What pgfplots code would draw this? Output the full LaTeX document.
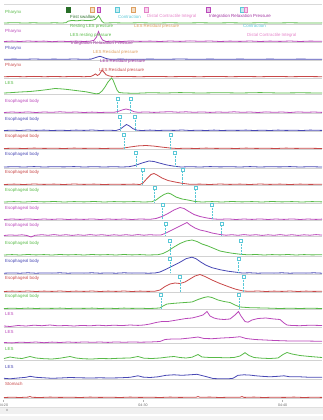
\documentclass[border=0pt]{standalone}
\usepackage{pgfplots}
\pgfplotsset{compat=1.18}
\usepackage{fontspec}
\setmainfont{Liberation Sans}
\definecolor{tgreen}{RGB}{88,186,72}
\definecolor{tmag}{RGB}{186,72,186}
\definecolor{tblue}{RGB}{72,72,180}
\definecolor{tred}{RGB}{200,72,72}
\definecolor{cyanm}{RGB}{90,200,215}
\definecolor{orangem}{RGB}{222,160,96}
\definecolor{pinkm}{RGB}{228,130,200}
\definecolor{purplem}{RGB}{160,50,160}
\definecolor{dkgreen}{RGB}{40,110,40}
\newcommand{\lf}{\fontsize{4.4}{5}\selectfont}
\newcommand{\cm}[3]{\draw[cyanm, densely dotted, line width=0.45pt] (axis cs:#1,#2) -- (axis cs:#1,#3);
\node[draw=cyanm, fill=white, line width=0.45pt, minimum size=3pt, inner sep=0pt] at (axis cs:#1,#2) {};}
\newcommand{\tm}[2]{\node[draw=#2, fill=#2!35, line width=0.45pt, minimum width=3.5pt, minimum height=5pt, inner sep=0pt] at (axis cs:#1,10) {};}
\newcommand{\lab}[3]{\node[anchor=west, inner sep=0pt, text=#2, font=\lf] at (axis cs:5,#1) {#3};}
\newcommand{\ann}[4]{\node[anchor=west, inner sep=0pt, text=#3, font=\lf] at (axis cs:#1,#2) {#4};}
\begin{document}
\begin{tikzpicture}
\begin{axis}[width=323pt, height=420pt, scale only axis, xmin=0, xmax=323, ymin=0, ymax=420, y dir=reverse, hide axis, clip=false,
  tr/.style={line width=0.8pt, no marks}]
\coordinate (ll) at (axis cs:0,420);
\coordinate (ur) at (axis cs:323,0);
% separators
\draw[gray!30, line width=0.4pt] (axis cs:4,4) -- (axis cs:322,4);
\pgfplotsinvokeforeach{24.2,42.7,60.5,77.9,94.2,113.7,131.7,149.7,168.2,185.7,203.2,220.7,236.7,256.2,274.4,292.7,309.7,327.2,343.7,360.2,379.5,398.7}{
  \draw[gray!35, line width=0.5pt] (axis cs:4,#1) -- (axis cs:322,#1);}
% track labels
\lab{12.5}{tgreen}{Pharynx}
\lab{31}{tmag}{Pharynx}
\lab{48.5}{tblue}{Pharynx}
\lab{65.5}{tred}{Pharynx}
\lab{83}{tgreen}{LES}
\lab{101.5}{tmag}{Esophageal body}
\lab{119}{tblue}{Esophageal body}
\lab{136.5}{tred}{Esophageal body}
\lab{154}{tblue}{Esophageal body}
\lab{172.3}{tred}{Esophageal body}
\lab{190}{tgreen}{Esophageal body}
\lab{208}{tmag}{Esophageal body}
\lab{225}{tmag}{Esophageal body}
\lab{243.3}{tgreen}{Esophageal body}
\lab{261}{tblue}{Esophageal body}
\lab{278.5}{tred}{Esophageal body}
\lab{296.5}{tgreen}{Esophageal body}
\lab{314}{tmag}{LES}
\lab{331.7}{tmag}{LES}
\lab{349.3}{tgreen}{LES}
\lab{366.7}{tblue}{LES}
\lab{384}{tred}{Stomach}
% traces
\addplot[tr, tgreen] table[row sep=\\, y expr=23-\thisrowno{1}] {x a\\ 4 0\\ 14 0.3\\ 24 0\\ 34 0.2\\ 44 -0.1\\ 54 0.2\\ 62 0\\ 66 0.3\\ 68 1.8\\ 72 2.6\\ 77 2.2\\ 82 2.8\\ 87 2.4\\ 92 2.7\\ 95 3.5\\ 97 5.5\\ 98.5 7.5\\ 100 5\\ 102 1.5\\ 104 0\\ 114 0.2\\ 126 0\\ 140 0.2\\ 155 0\\ 170 0.2\\ 185 0\\ 200 0.2\\ 215 0\\ 230 0.2\\ 245 0\\ 260 0.2\\ 275 0\\ 290 0.2\\ 305 0\\ 322 0.1\\};
\addplot[tr, tmag] table[row sep=\\, y expr=41.5-\thisrowno{1}] {x a\\ 4 0\\ 12 0.4\\ 20 0\\ 28 0.5\\ 36 0.1\\ 44 0.4\\ 52 -0.2\\ 60 0.3\\ 68 0\\ 76 0.4\\ 84 0\\ 90 0.3\\ 94 1.2\\ 96.5 4.5\\ 98.5 10\\ 100.5 5\\ 102.5 1.5\\ 106 0\\ 114 0.4\\ 122 0\\ 130 0.5\\ 140 0.1\\ 150 0.4\\ 160 0\\ 170 0.5\\ 180 0.1\\ 190 0.6\\ 200 0.2\\ 210 0.5\\ 220 0\\ 230 0.4\\ 240 0.1\\ 250 0.5\\ 260 0\\ 270 0.4\\ 280 0.1\\ 290 0.5\\ 300 0\\ 310 0.4\\ 322 0.2\\};
\addplot[tr, tblue] table[row sep=\\, y expr=59.3-\thisrowno{1}] {x a\\ 4 0\\ 14 0.2\\ 24 0\\ 34 0.3\\ 44 0\\ 54 0.2\\ 64 0\\ 74 0.3\\ 84 0\\ 91 0.2\\ 95 1.5\\ 98 2.5\\ 100 3\\ 103 2\\ 106 0.8\\ 110 0\\ 120 0.2\\ 135 0\\ 150 0.2\\ 165 0\\ 180 0.3\\ 195 0\\ 210 0.2\\ 225 0\\ 240 0.2\\ 255 0\\ 270 0.2\\ 285 0\\ 300 0.2\\ 322 0\\};
\addplot[tr, tred] table[row sep=\\, y expr=76.7-\thisrowno{1}] {x a\\ 4 0\\ 14 0.2\\ 24 0\\ 34 0.3\\ 44 0\\ 54 0.2\\ 64 0\\ 74 0.3\\ 84 0\\ 91 0.3\\ 93.5 1.5\\ 95.5 2.8\\ 97.5 1.2\\ 99.5 2.5\\ 102 6.5\\ 104 4.5\\ 106 2\\ 109 0.8\\ 113 0\\ 125 0.2\\ 140 0\\ 155 0.3\\ 170 0\\ 185 0.2\\ 200 0\\ 215 0.3\\ 230 0\\ 245 0.2\\ 260 0\\ 275 0.3\\ 290 0\\ 305 0.2\\ 322 0\\};
\addplot[tr, tgreen] table[row sep=\\, y expr=93-\thisrowno{1}] {x a\\ 4 0\\ 10 0.3\\ 20 1\\ 30 1.5\\ 40 2.5\\ 48 3.5\\ 55 4.5\\ 60 4.2\\ 65 3.8\\ 70 3.2\\ 78 2.2\\ 86 1.2\\ 92 0\\ 96 -0.8\\ 99 -0.5\\ 102 2\\ 105 6\\ 108 11\\ 111.5 15\\ 113 13\\ 115 8\\ 117 3\\ 119 0.5\\ 124 0\\ 135 -0.3\\ 150 0.3\\ 165 0\\ 180 0.4\\ 200 0\\ 220 0.3\\ 240 0\\ 260 0.4\\ 280 0\\ 300 0.2\\ 322 0\\};
\addplot[tr, tmag] table[row sep=\\, y expr=112.5-\thisrowno{1}] {x a\\ 4 0\\ 12 0.5\\ 20 0.1\\ 28 0.6\\ 36 0\\ 44 0.5\\ 52 0.2\\ 60 0.7\\ 68 0.2\\ 76 0.5\\ 84 0\\ 92 0.4\\ 100 0\\ 108 0.3\\ 114 0.2\\ 118 1\\ 122 2.5\\ 126 3.5\\ 130 2.5\\ 134 0.8\\ 138 0.2\\ 146 0.6\\ 154 0.1\\ 162 0.5\\ 170 0.8\\ 178 0.3\\ 186 0.7\\ 194 0.2\\ 202 0.6\\ 210 0.1\\ 218 0.5\\ 226 0.2\\ 234 0.7\\ 242 0.2\\ 250 0.5\\ 258 0\\ 266 0.6\\ 274 0.2\\ 282 0.5\\ 290 0\\ 298 0.6\\ 306 0.2\\ 314 0.5\\ 322 0.1\\};
\addplot[tr, tblue] table[row sep=\\, y expr=130.5-\thisrowno{1}] {x a\\ 4 0\\ 12 0.3\\ 20 0\\ 28 0.5\\ 36 0.1\\ 44 0.4\\ 52 0\\ 60 0.3\\ 68 0\\ 76 0.4\\ 84 0.1\\ 92 0.5\\ 100 0\\ 108 0.3\\ 116 0\\ 120 1.2\\ 123 3.5\\ 126.5 6\\ 129.5 4.5\\ 133 1.8\\ 137 0.3\\ 142 0\\ 150 0.4\\ 158 0\\ 166 0.3\\ 174 0.1\\ 182 0.5\\ 190 0\\ 198 0.3\\ 206 0\\ 214 0.4\\ 222 0\\ 230 0.3\\ 238 0.1\\ 246 0.4\\ 254 0\\ 262 0.3\\ 270 0\\ 278 0.4\\ 286 0.1\\ 294 0.3\\ 302 0\\ 310 0.4\\ 322 0.1\\};
\addplot[tr, tred] table[row sep=\\, y expr=148.5-\thisrowno{1}] {x a\\ 4 0\\ 14 0.3\\ 24 0\\ 34 0.4\\ 44 0.1\\ 54 0.3\\ 64 0\\ 74 0.4\\ 84 0.1\\ 94 0.3\\ 104 0\\ 114 0.3\\ 122 0.2\\ 130 1.5\\ 138 2.6\\ 146 3\\ 154 2.4\\ 162 1.4\\ 170 0.5\\ 177 0\\ 186 0.3\\ 196 0\\ 206 0.4\\ 216 0.1\\ 226 0.3\\ 236 0\\ 246 0.4\\ 256 0.1\\ 266 0.3\\ 276 0\\ 286 0.4\\ 296 0.1\\ 306 0.3\\ 322 0\\};
\addplot[tr, tblue] table[row sep=\\, y expr=167-\thisrowno{1}] {x a\\ 4 0\\ 14 0.3\\ 24 0\\ 34 0.4\\ 44 0\\ 54 0.3\\ 64 0.1\\ 74 0.4\\ 84 0\\ 94 0.3\\ 104 0\\ 114 0.3\\ 122 0\\ 129 0.3\\ 135 1.5\\ 142 4\\ 149 6\\ 154 5.5\\ 160 3.8\\ 167 2\\ 174 0.8\\ 181 0\\ 190 0.3\\ 200 0\\ 210 0.4\\ 220 0.1\\ 230 0.3\\ 240 0\\ 250 0.4\\ 260 0\\ 270 0.3\\ 280 0.1\\ 290 0.4\\ 300 0\\ 310 0.3\\ 322 0\\};
\addplot[tr, tred] table[row sep=\\, y expr=184.5-\thisrowno{1}] {x a\\ 4 0\\ 14 0.4\\ 24 0\\ 34 0.5\\ 44 0.1\\ 54 0.4\\ 64 0\\ 74 0.5\\ 84 0.1\\ 94 0.4\\ 104 0\\ 114 0.3\\ 124 0.1\\ 134 0.4\\ 140 0\\ 143 1.5\\ 147 6\\ 151 10\\ 154 11\\ 157 9.5\\ 162 6.5\\ 168 4\\ 175 2.5\\ 182 1.2\\ 190 0.2\\ 200 0.4\\ 210 0\\ 220 0.5\\ 230 0.1\\ 240 0.4\\ 250 0\\ 260 0.5\\ 270 0.1\\ 280 0.4\\ 290 0\\ 300 0.4\\ 310 0.1\\ 322 0.3\\};
\addplot[tr, tgreen] table[row sep=\\, y expr=202-\thisrowno{1}] {x a\\ 4 0\\ 14 0.4\\ 24 0\\ 34 0.5\\ 44 0.1\\ 54 0.5\\ 64 0\\ 74 0.4\\ 84 0.1\\ 94 0.5\\ 104 0\\ 114 0.4\\ 124 0.1\\ 134 0.4\\ 144 0\\ 152 0.3\\ 156 2\\ 160 5\\ 164 7.5\\ 168 9\\ 171 8\\ 176 5\\ 182 3\\ 188 2\\ 195 0.5\\ 202 0\\ 212 0.4\\ 222 0\\ 232 0.5\\ 242 0.1\\ 252 0.4\\ 262 0\\ 272 0.5\\ 282 0.1\\ 292 0.4\\ 302 0\\ 312 0.4\\ 322 0.1\\};
\addplot[tr, tmag] table[row sep=\\, y expr=219.5-\thisrowno{1}] {x a\\ 4 0\\ 12 0.5\\ 20 0.1\\ 28 0.6\\ 36 0\\ 44 0.5\\ 52 0.1\\ 60 0.6\\ 68 0\\ 76 0.4\\ 84 0.1\\ 92 0.6\\ 100 0\\ 108 0.5\\ 116 0.1\\ 124 0.5\\ 132 0\\ 140 0.5\\ 150 0.2\\ 156 1\\ 162 3\\ 168 6\\ 174 9.5\\ 180 12\\ 184 11\\ 188 8.5\\ 194 5\\ 200 3\\ 207 1.5\\ 214 0.5\\ 220 0.2\\ 228 0.6\\ 236 0\\ 244 0.5\\ 252 0.1\\ 260 0.6\\ 268 0\\ 276 0.5\\ 284 0.1\\ 292 0.6\\ 300 0\\ 308 0.5\\ 316 0.1\\ 322 0.4\\};
\addplot[tr, tmag] table[row sep=\\, y expr=235.5-\thisrowno{1}] {x a\\ 4 0\\ 10 0.6\\ 16 0.2\\ 22 0.7\\ 27 0\\ 31 -1.5\\ 35 0.2\\ 42 0.8\\ 48 0.2\\ 54 0.9\\ 60 0.2\\ 66 0.8\\ 72 0.1\\ 78 0.7\\ 84 0.2\\ 90 0.9\\ 96 0.3\\ 102 0.8\\ 108 0.1\\ 114 0.7\\ 120 0.2\\ 126 0.8\\ 132 0.2\\ 138 0.9\\ 144 0.3\\ 150 0.8\\ 156 0.4\\ 161 0.5\\ 165 2\\ 170 4.5\\ 176 7.5\\ 181 10\\ 187 13\\ 190 10.5\\ 195 7.5\\ 200 5.5\\ 206 4.2\\ 212 2.5\\ 220 1\\ 226 0.3\\ 232 0.8\\ 238 0.2\\ 244 0.9\\ 250 0.3\\ 256 0.8\\ 262 0.1\\ 268 0.7\\ 274 0.2\\ 280 0.9\\ 286 0.2\\ 292 0.8\\ 298 0.1\\ 304 0.7\\ 310 0.3\\ 316 0.9\\ 322 0.4\\};
\addplot[tr, tgreen] table[row sep=\\, y expr=255-\thisrowno{1}] {x a\\ 4 0\\ 12 0.4\\ 20 0\\ 28 0.5\\ 36 0.1\\ 44 0.4\\ 52 0\\ 60 0.5\\ 68 0.1\\ 76 0.4\\ 84 0\\ 92 0.5\\ 100 0.1\\ 108 0.4\\ 116 0\\ 124 0.5\\ 132 0.1\\ 140 0.4\\ 148 0\\ 158 0.3\\ 163 1.5\\ 168 4\\ 174 8\\ 180 11.5\\ 186 14\\ 192 15\\ 197 13.5\\ 202 11\\ 208 9\\ 214 6.5\\ 220 4\\ 226 2.8\\ 232 1.8\\ 240 0.8\\ 248 0.2\\ 256 0.5\\ 264 0\\ 272 0.4\\ 280 0.1\\ 288 0.5\\ 296 0\\ 304 0.4\\ 312 0.1\\ 322 0.3\\};
\addplot[tr, tblue] table[row sep=\\, y expr=273.2-\thisrowno{1}] {x a\\ 4 0\\ 12 0.3\\ 20 0\\ 28 0.4\\ 36 0\\ 44 0.3\\ 52 0.1\\ 60 0.4\\ 68 0\\ 76 0.3\\ 84 0.1\\ 92 0.4\\ 100 0\\ 108 0.3\\ 116 0\\ 124 0.4\\ 132 0.1\\ 140 0.3\\ 148 0\\ 155 0.2\\ 160 1.2\\ 165 3.5\\ 170 6\\ 175 8.5\\ 180 11\\ 186 14.5\\ 192 16\\ 196 14.5\\ 201 11\\ 206 8\\ 212 5.5\\ 220 3.5\\ 228 2\\ 236 1\\ 242 0.2\\ 250 0.4\\ 258 0\\ 266 0.3\\ 274 0.1\\ 282 0.4\\ 290 0\\ 298 0.3\\ 306 0.1\\ 314 0.4\\ 322 0\\};
\addplot[tr, tred] table[row sep=\\, y expr=291.5-\thisrowno{1}] {x a\\ 4 0\\ 12 0.4\\ 20 0.1\\ 28 0.5\\ 36 0\\ 44 0.4\\ 52 0.1\\ 60 0.5\\ 68 0\\ 76 0.4\\ 84 0.1\\ 92 0.5\\ 100 0\\ 108 0.4\\ 116 0.1\\ 124 0.5\\ 132 0\\ 140 0.4\\ 148 0.1\\ 155 0.3\\ 160 1.5\\ 165 5\\ 170 7.5\\ 175 8.5\\ 180 8\\ 185 9.5\\ 190 12.5\\ 195 15.5\\ 200 17\\ 205 15\\ 212 11.5\\ 220 8\\ 228 5\\ 235 2.5\\ 243 0.5\\ 250 0.2\\ 258 0.5\\ 266 0\\ 274 0.4\\ 282 0.1\\ 290 0.5\\ 298 0\\ 306 0.4\\ 314 0.1\\ 322 0.3\\};
\addplot[tr, tgreen] table[row sep=\\, y expr=308.5-\thisrowno{1}] {x a\\ 4 0\\ 12 0.3\\ 20 0\\ 28 0.4\\ 36 0\\ 44 0.3\\ 52 0.1\\ 60 0.4\\ 68 0\\ 76 0.3\\ 84 0.1\\ 92 0.4\\ 100 0\\ 108 0.3\\ 116 0\\ 124 0.4\\ 132 0.1\\ 140 0.3\\ 148 0\\ 155 0.2\\ 160 0.6\\ 163 2.5\\ 167 4.5\\ 172 5\\ 178 5.5\\ 185 6\\ 192 6.5\\ 198 9\\ 204 11\\ 208 11.8\\ 212 11\\ 218 8.5\\ 224 7\\ 230 6\\ 235 3.5\\ 240 1.5\\ 250 0.8\\ 265 0.5\\ 280 0\\ 290 0.3\\ 300 0\\ 310 0.3\\ 322 0\\};
\addplot[tr, tmag] table[row sep=\\, y expr=326-\thisrowno{1}] {x a\\ 4 0\\ 10 -0.5\\ 18 0.5\\ 26 0\\ 34 0.8\\ 42 0.3\\ 50 1\\ 58 0.2\\ 66 0.5\\ 74 0\\ 82 0.6\\ 90 0.2\\ 98 0.8\\ 106 0.3\\ 114 0.8\\ 122 0.4\\ 130 1\\ 138 0.6\\ 144 1\\ 150 2\\ 156 3.5\\ 162 4.5\\ 168 4.5\\ 174 5.5\\ 180 6.5\\ 186 7.5\\ 192 8\\ 198 9.5\\ 203 11\\ 207 14.5\\ 210 10\\ 214 8\\ 218 7\\ 224 6.5\\ 230 7\\ 235 11\\ 238.5 14.5\\ 241 10\\ 245 4.5\\ 248 3.8\\ 252 6\\ 258 7.5\\ 266 8\\ 274 7\\ 280 6.5\\ 284 3\\ 287 1\\ 292 0.5\\ 300 0.3\\ 310 0.8\\ 322 0.5\\};
\addplot[tr, tmag] table[row sep=\\, y expr=342.5-\thisrowno{1}] {x a\\ 4 0\\ 12 -0.4\\ 20 0.3\\ 28 0\\ 36 0.5\\ 44 -0.2\\ 52 0.4\\ 60 0\\ 68 0.5\\ 76 0.1\\ 84 0.6\\ 92 0.2\\ 100 0.5\\ 108 0.1\\ 116 0.6\\ 124 0.2\\ 132 0.6\\ 140 0.3\\ 150 0.5\\ 160 1\\ 165 3\\ 172 3.5\\ 180 3.5\\ 190 4.5\\ 198 5.5\\ 204 4\\ 212 3.8\\ 222 4.5\\ 232 5\\ 240 5.8\\ 246 4\\ 255 3\\ 265 2.5\\ 275 2\\ 290 1.5\\ 305 1.5\\ 322 1.2\\};
\addplot[tr, tgreen] table[row sep=\\, y expr=359-\thisrowno{1}] {x a\\ 4 0.5\\ 10 2\\ 16 1\\ 22 0.5\\ 30 2.5\\ 36 1\\ 44 0.3\\ 52 0\\ 60 0.8\\ 70 2.5\\ 76 1\\ 84 0.2\\ 92 0\\ 100 0.5\\ 110 0.3\\ 120 0.8\\ 130 1\\ 138 2.5\\ 144 0.8\\ 152 0.5\\ 160 1\\ 168 2\\ 174 2.5\\ 180 1.5\\ 186 1\\ 192 1.8\\ 198 4.5\\ 202 2\\ 210 1.5\\ 218 1.5\\ 226 1.2\\ 234 1.5\\ 240 3\\ 245 6.3\\ 249 3.5\\ 254 1.5\\ 262 0.8\\ 270 0.5\\ 278 1\\ 283 4.5\\ 287 6.5\\ 292 5\\ 300 3.5\\ 310 2.5\\ 322 1.5\\};
\addplot[tr, tblue] table[row sep=\\, y expr=378.3-\thisrowno{1}] {x a\\ 4 0\\ 10 -0.5\\ 18 0.3\\ 26 1\\ 30 2\\ 36 1\\ 44 0.5\\ 52 0\\ 60 0.3\\ 70 0.8\\ 80 0.5\\ 90 0.3\\ 100 0.5\\ 110 0.3\\ 120 0.5\\ 130 1\\ 138 2.5\\ 143 1.2\\ 150 0.8\\ 158 1.5\\ 166 3\\ 174 3.5\\ 182 3\\ 190 3.5\\ 197 4\\ 203 2.5\\ 208 1.2\\ 213 -0.2\\ 220 -0.5\\ 228 -0.5\\ 233 0\\ 238 3\\ 244 3.5\\ 250 3.2\\ 256 2.5\\ 262 2\\ 270 1.5\\ 278 2\\ 284 2.5\\ 290 1.5\\ 300 1.5\\ 310 1\\ 322 1\\};
\addplot[tr, tred] table[row sep=\\, y expr=397.5-\thisrowno{1}] {x a\\ 4 0\\ 12 0.3\\ 20 0\\ 28 0.4\\ 30 1\\ 32 0.2\\ 40 0\\ 50 0.4\\ 60 0.1\\ 70 0.3\\ 80 0\\ 90 0.4\\ 100 0.1\\ 110 0.3\\ 120 0\\ 130 0.4\\ 140 0.1\\ 150 0.3\\ 160 0\\ 170 0.4\\ 180 0.1\\ 190 0.3\\ 196 0.2\\ 198 1\\ 200 0.2\\ 210 0.4\\ 220 0\\ 230 0.3\\ 240 0.2\\ 242 1\\ 244 0.1\\ 254 0.4\\ 264 0\\ 274 0.3\\ 284 0.1\\ 294 0.4\\ 304 0\\ 314 0.3\\ 322 0.1\\};
% contraction markers
\cm{117.3}{98.7}{112.5}\cm{130.7}{98.7}{112.5}
\cm{120}{116.7}{130.5}\cm{135}{116.7}{130.5}
\cm{124}{135}{148.5}\cm{170.7}{135}{148.5}
\cm{136}{152.7}{167}\cm{175}{152.7}{167}
\cm{142.7}{169.3}{184.5}\cm{182.7}{169.3}{184.5}
\cm{154.3}{187.3}{202}\cm{195.7}{187.3}{202}
\cm{162.7}{205}{219.5}\cm{212}{205}{219.5}
\cm{165.7}{223.3}{235.5}\cm{221.7}{223.3}{235.5}
\cm{170}{241}{255}\cm{241}{241}{255}
\cm{170}{258.7}{273.2}\cm{238.3}{258.7}{273.2}
\cm{180}{276.7}{291.5}\cm{243.3}{276.7}{291.5}
\cm{161}{295}{308.5}\cm{239}{295}{308.5}
% top event markers
\node[draw=dkgreen, fill=dkgreen, line width=0.45pt, minimum width=3.5pt, minimum height=5pt, inner sep=0pt] at (axis cs:68.3,10) {};
\tm{92.3}{orangem}\tm{98.7}{tmag}\tm{117.3}{cyanm}\tm{133.3}{orangem}\tm{146}{pinkm}\tm{208.3}{tmag}\tm{242.3}{cyanm}\tm{245.7}{pinkm}
% annotations
\ann{70}{16.5}{dkgreen}{First swallow}
\ann{118}{16.5}{cyanm}{Contraction}
\ann{147}{16.5}{pinkm}{Distal Contractile Integral}
\ann{209}{16.5}{purplem}{Integration Relaxation Pressure}
\ann{70}{26}{tgreen}{Resting LES pressure}
\ann{134}{26}{orangem}{LES Residual pressure}
\ann{243}{26}{cyanm}{Contraction}
\ann{70}{35}{tgreen}{LES resting pressure}
\ann{247}{35}{pinkm}{Distal Contractile Integral}
\ann{71}{43.5}{purplem}{Integration Relaxation Pressure}
\ann{93}{52.3}{orangem}{LES Residual pressure}
\ann{100}{61.5}{purplem}{LES Residual pressure}
\ann{99}{70}{tred}{LES Residual pressure}
% time axis
\draw[gray!60, line width=0.4pt] (axis cs:3.5,399.5) -- (axis cs:3.5,401.5);
\draw[gray!60, line width=0.4pt] (axis cs:143,399.5) -- (axis cs:143,401.5);
\draw[gray!60, line width=0.4pt] (axis cs:282.5,399.5) -- (axis cs:282.5,401.5);
\node[font=\fontsize{3.6}{4}\selectfont, text=gray!80!black, inner sep=0pt] at (axis cs:3.5,405) {04:20};
\node[font=\fontsize{3.6}{4}\selectfont, text=gray!80!black, inner sep=0pt] at (axis cs:143,405) {04:30};
\node[font=\fontsize{3.6}{4}\selectfont, text=gray!80!black, inner sep=0pt] at (axis cs:282.5,405) {04:40};
\fill[gray!12] (axis cs:0,407.5) rectangle (axis cs:323,413.5);
\draw[gray!25, line width=0.3pt] (axis cs:0,407.5) -- (axis cs:323,407.5);
\node[font=\fontsize{3}{3}\selectfont, text=gray!70!black, inner sep=0pt] at (axis cs:7,410.5) {II};
\fill[gray!9] (axis cs:0,416) rectangle (axis cs:323,419.5);
\end{axis}
\pgfresetboundingbox
\path (ll) rectangle (ur);
\end{tikzpicture}
\end{document}
